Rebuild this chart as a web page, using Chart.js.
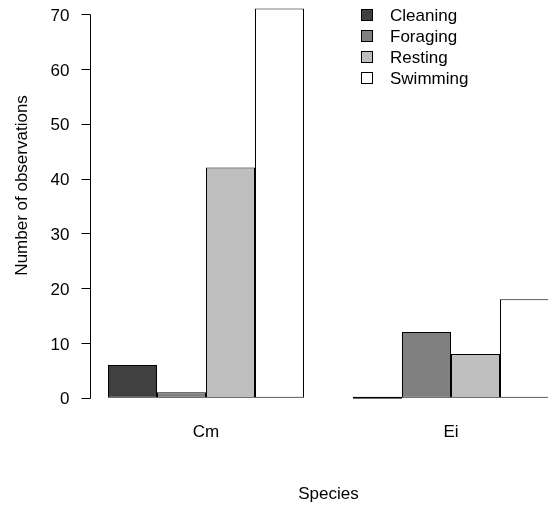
<!DOCTYPE html>
<html>
<head>
<meta charset="utf-8">
<script src="https://cdn.jsdelivr.net/npm/chart.js@4"></script>
<style>
  html, body { margin: 0; padding: 0; background: #fff; overflow: hidden; }
  #wrap { position: relative; width: 548px; height: 506px; overflow: hidden; }
  #chart { position: absolute; left: 0; top: -44px; }
  .legend { position: absolute; left: 361px; top: 4.5px; font: 17px "Liberation Sans", Arial, sans-serif; color: #000; }
  .legend-item { position: relative; height: 21px; line-height: 21px; }
  .legend-box { position: absolute; left: 0; top: 4.5px; width: 10px; height: 10px; border: 1px solid #000; }
  .legend-text { position: absolute; left: 29px; top: 0; white-space: nowrap; }
</style>
</head>
<body>
<div id="wrap">
  <canvas id="chart" width="580" height="550"></canvas>
  <div class="legend" id="legend"></div>
</div>
<script>
const species = ['Cm', 'Ei'];
const behaviours = ['Cleaning', 'Foraging', 'Resting', 'Swimming'];
const cleaning = [6, 0];
const foraging = [1, 12];
const resting = [42, 8];
const swimming = [71, 18];
const yTicks = [0, 10, 20, 30, 40, 50, 60, 70];

const fills = ['#404040', '#808080', '#bfbfbf', '#ffffff'];
const font = "'Liberation Sans', Arial, sans-serif";

// R style left axis: line only from first to last tick, ticks pointing out
const rAxis = {
    id: 'rAxis',
    afterDraw(chart) {
        const { ctx, chartArea, scales: { y } } = chart;
        const ax = Math.round(chartArea.left + 6) + 0.5;
        const top = Math.round(y.getPixelForValue(yTicks[yTicks.length - 1])) + 0.5;
        const bottom = Math.round(y.getPixelForValue(yTicks[0])) + 0.5;
        ctx.save();
        ctx.strokeStyle = '#000';
        ctx.lineWidth = 1;
        ctx.beginPath();
        ctx.moveTo(ax, top);
        ctx.lineTo(ax, bottom);
        yTicks.forEach(v => {
            const py = Math.round(y.getPixelForValue(v)) + 0.5;
            ctx.moveTo(ax - 9, py);
            ctx.lineTo(ax, py);
        });
        ctx.stroke();
        ctx.restore();
    }
};

const series = [cleaning, foraging, resting, swimming];

new Chart(document.getElementById('chart'), {
    type: 'bar',
    data: {
        labels: species,
        datasets: behaviours.map((name, i) => ({
            label: name,
            data: series[i],
            backgroundColor: fills[i],
            borderColor: '#000',
            borderWidth: 1,
            borderSkipped: false,
            minBarLength: 2,
            categoryPercentage: 0.8,
            barPercentage: 1.0
        }))
    },
    options: {
        responsive: false,
        animation: false,
        layout: { padding: { left: 0, right: 6.5, top: 0, bottom: 0 } },
        plugins: {
            legend: { display: false },
            tooltip: { enabled: false }
        },
        scales: {
            x: {
                grid: { display: false, drawTicks: false },
                border: { display: false },
                ticks: { color: '#000', padding: 7.5, font: { family: font, size: 17 } },
                title: {
                    display: true,
                    text: 'Species',
                    color: '#000',
                    font: { family: font, size: 17 },
                    padding: { top: 0, bottom: 1 }
                },
                afterFit(scale) { scale.height = 91.2; }
            },
            y: {
                min: -3.1,
                max: 80.6,
                grid: { display: false, drawTicks: false },
                border: { display: false },
                ticks: { color: '#000', padding: 14, labelOffset: 2, font: { family: font, size: 17 } },
                afterBuildTicks(scale) { scale.ticks = yTicks.map(v => ({ value: v })); },
                title: {
                    display: true,
                    text: 'Number of observations',
                    color: '#000',
                    font: { family: font, size: 17 },
                    padding: { top: 12, bottom: 0 }
                },
                afterFit(scale) {
                    scale.width = 83.5;
                    scale.paddingTop = 0;
                    scale.paddingBottom = 0;
                }
            }
        }
    },
    plugins: [rAxis]
});

// legend, top right like the R legend()
const legend = document.getElementById('legend');
behaviours.forEach((name, i) => {
    const item = document.createElement('div');
    item.className = 'legend-item';
    item.innerHTML = '<span class="legend-box" style="background:' + fills[i] + '"></span>' +
        '<span class="legend-text">' + name + '</span>';
    legend.appendChild(item);
});
</script>
</body>
</html>
